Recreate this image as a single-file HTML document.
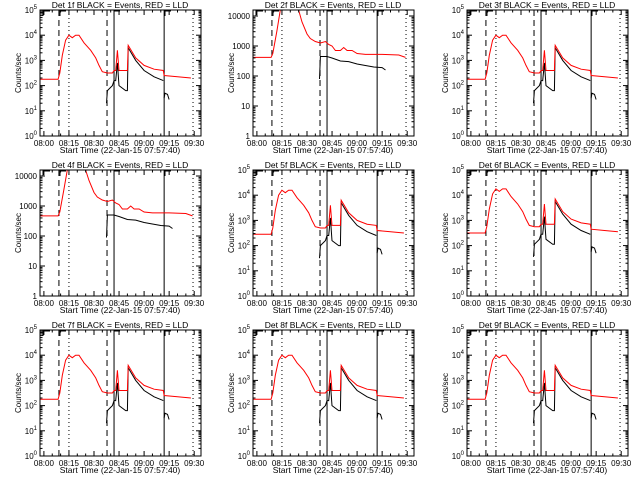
<!DOCTYPE html>
<html><head><meta charset="utf-8"><style>
body{margin:0;background:#fff}
svg{display:block;font-family:"Liberation Sans",sans-serif}
</style></head><body>
<svg id="c" width="640" height="480"></svg>
<script>
// minutes since 08:00, log10 counts/sec
const redTimesA = [-2.3,8.5,9.5,11,13,15,17,19,21,24,28,31,33,35,38,41,42,43,44,45,48,50,50.5,55,60,66,71.5,72,80,88];
const redLogA   = [2.25,2.25,2.5,3.2,3.8,4.0,3.9,4.0,4.0,3.7,3.4,3.1,2.8,2.55,2.5,2.5,2.6,2.6,3.4,2.6,2.6,2.6,3.6,3.1,2.8,2.65,2.6,2.4,2.35,2.3];
const blackTimesA = [37.5,38,41,42,43,44,45,49,50,50.5,55,60,66,71.5];
const blackLogA   = [1.3,1.8,2.0,2.2,2.2,2.9,2.0,1.8,1.8,3.5,3.0,2.6,2.35,2.2];
const black2TimesA = [72,72.5,74,75];
const black2LogA   = [1.5,1.7,1.65,1.45];
const redTimesB = [-2.3,8.5,9.5,12,14,25,27,30,32,35,38,41,43,45,47,50,52,54,57,60,65,75,85,89];
const redLogB   = [2.62,2.62,2.75,3.5,4.3,4.3,3.8,3.4,3.25,3.15,3.1,3.15,3.05,3.0,2.85,2.85,2.95,2.85,2.85,2.75,2.72,2.72,2.7,2.62];
const blackTimesB = [37.5,38,42,45,50,55,60,65,70,75,77];
const blackLogB   = [1.9,2.65,2.65,2.6,2.5,2.48,2.4,2.35,2.3,2.28,2.2];
const detNames = ["1f","2f","3f","4f","5f","6f","7f","8f","9f"];
const panelType = ["A","B","A","B","A","A","A","A","A"];
const panelOffset = [0,0,0,0.05,0.2,0.25,0,0,0];
const xTickLabels = ["08:00","08:15","08:30","08:45","09:00","09:15","09:30"];
const xTickMins = [0,15,30,45,60,75,90];

const NS="http://www.w3.org/2000/svg";
const svg=document.getElementById('c');
function mk(tag,attrs,parent){const e=document.createElementNS(NS,tag);for(const k in attrs)e.setAttribute(k,attrs[k]);parent.appendChild(e);return e;}
const L=40,R=201,T=10,B=136;
function xs(m){return L+(m+2.333)*1.67;}

for(let p=0;p<9;p++){
  const col=p%3,row=Math.floor(p/3);
  const g=mk('g',{transform:`translate(${Math.round(col*213.3)},${row*160})`},svg);
  
  
  const typ=panelType[p];
  const top= typ==="A"?5:4.2;
  const ys=v=>B-(Math.min(Math.max(v,0),top))*(B-T)/top;
  [[9,'6,4'],[37.8,'6,4']].forEach(([m,d])=>{const l=mk('line',{x1:xs(m),x2:xs(m),y1:T,y2:B,stroke:'#000','stroke-width':1,'stroke-dasharray':d},g);});
  [15,89.3].forEach(m=>{const l=mk('line',{x1:xs(m),x2:xs(m),y1:T,y2:B,stroke:'#000','stroke-width':1,'stroke-dasharray':'1,3'},g);});
  [42,72].forEach(m=>{const l=mk('line',{x1:xs(m),x2:xs(m),y1:T,y2:B,stroke:'#000','stroke-width':1},g);});
  [[43,50],[60,66],[114,120],[165,171]].forEach(([a,b])=>{mk('polyline',{points:`${a},16 ${a},11 ${b},11`,fill:'none',stroke:'#000','stroke-width':1},g);});
  const off=panelOffset[p];
  const pts=(ts,vs)=>ts.map((t,i)=>xs(t).toFixed(1)+','+ys(vs[i]+off).toFixed(1)).join(' ');
  if(typ==="A"){
    const b1=mk('polyline',{points:pts(blackTimesA,blackLogA),fill:'none',stroke:'#000','stroke-width':1},g);
    
    const b2=mk('polyline',{points:pts(black2TimesA,black2LogA),fill:'none',stroke:'#000','stroke-width':1},g);
    
    const r=mk('polyline',{points:pts(redTimesA,redLogA),fill:'none',stroke:'#ff0000','stroke-width':1},g);
    
  } else {
    const b1=mk('polyline',{points:pts(blackTimesB,blackLogB),fill:'none',stroke:'#000','stroke-width':1},g);
    
    const r=mk('polyline',{points:pts(redTimesB,redLogB),fill:'none',stroke:'#ff0000','stroke-width':1},g);
    
  }
  const box=mk('rect',{x:L,y:T,width:R-L,height:B-T,fill:'none',stroke:'#000','stroke-width':1},g);
  
  const nd=typ==="A"?5:4;
  for(let d=0;d<=nd;d++){
    const y=ys(d);
    mk('line',{x1:L,x2:L+5,y1:y,y2:y,stroke:'#000'},g);mk('line',{x1:R,x2:R-5,y1:y,y2:y,stroke:'#000'},g);
    for(let k=2;k<10;k++){const v=d+Math.log10(k);if(v>top)break;const yy=ys(v);mk('line',{x1:L,x2:L+2.5,y1:yy,y2:yy,stroke:'#000'},g);mk('line',{x1:R,x2:R-2.5,y1:yy,y2:yy,stroke:'#000'},g);}
    const t=mk('text',{x:L-3,y:y+3,'font-size':8,'text-anchor':'end'},g);
    
    if(typ==="A"){t.textContent='10';const s=mk('tspan',{dy:-4,'font-size':6},t);s.textContent=String(d);}
    else t.textContent=String(Math.pow(10,d));
  }
  xTickMins.forEach((m,i)=>{const x=xs(m);mk('line',{x1:x,x2:x,y1:B,y2:B-5,stroke:'#000'},g);mk('line',{x1:x,x2:x,y1:T,y2:T+5,stroke:'#000'},g);
    for(let k=1;k<3;k++){const xm=xs(m+k*5);if(xm<R){mk('line',{x1:xm,x2:xm,y1:B,y2:B-2.5,stroke:'#000'},g);mk('line',{x1:xm,x2:xm,y1:T,y2:T+2.5,stroke:'#000'},g);}}
    const t=mk('text',{x:x,y:B+10,'font-size':8,'text-anchor':'middle'},g);t.textContent=xTickLabels[i];
    });
  const xt=mk('text',{x:120,y:B+17,'font-size':8.5,'text-anchor':'middle'},g);xt.textContent='Start Time (22-Jan-15 07:57:40)';
  
  const yt=mk('text',{x:0,y:0,'font-size':8,'text-anchor':'middle',transform:`translate(21,${(T+B)/2}) rotate(-90)`},g);yt.textContent='Counts/sec';
  
  const tt=mk('text',{x:120,y:8,'font-size':8.5,'text-anchor':'middle'},g);tt.textContent='Det '+detNames[p]+' BLACK = Events, RED = LLD';
  
}
</script>
</body></html>
